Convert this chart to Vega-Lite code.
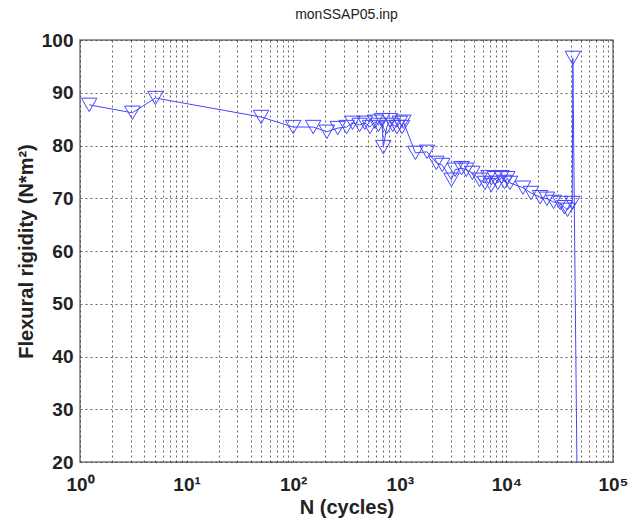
{
  "$schema": "https://vega.github.io/schema/vega-lite/v6.json",
  "width": 533,
  "height": 422,
  "autosize": "none",
  "padding": {"left": 80, "top": 40, "right": 16, "bottom": 58},
  "background": "white",
  "config": {"view": {"stroke": "#7a7a7a", "strokeWidth": 1.5}, "font": "Liberation Sans"},
  "title": {"text": "monSSAP05.inp", "fontSize": 14, "fontWeight": "normal", "font": "Liberation Sans", "offset": 9, "color": "#222"},
  "data": {"values": [
    {"N": 1.22, "EI": 87.7},
    {"N": 3.1, "EI": 86.2},
    {"N": 5.1, "EI": 89.0},
    {"N": 50, "EI": 85.4},
    {"N": 100, "EI": 83.5},
    {"N": 154, "EI": 83.5},
    {"N": 207, "EI": 82.6},
    {"N": 262, "EI": 83.3},
    {"N": 317, "EI": 83.5},
    {"N": 360, "EI": 84.3},
    {"N": 420, "EI": 83.9},
    {"N": 470, "EI": 84.3},
    {"N": 525, "EI": 83.5},
    {"N": 585, "EI": 84.5},
    {"N": 630, "EI": 83.9},
    {"N": 680, "EI": 84.8},
    {"N": 700, "EI": 79.7},
    {"N": 755, "EI": 83.5},
    {"N": 810, "EI": 84.8},
    {"N": 860, "EI": 83.9},
    {"N": 940, "EI": 83.5},
    {"N": 1000, "EI": 84.3},
    {"N": 1050, "EI": 83.5},
    {"N": 1080, "EI": 84.5},
    {"N": 1400, "EI": 78.6},
    {"N": 1800, "EI": 78.8},
    {"N": 2200, "EI": 76.7},
    {"N": 2500, "EI": 76.3},
    {"N": 3050, "EI": 73.5},
    {"N": 3300, "EI": 75.4},
    {"N": 3800, "EI": 75.7},
    {"N": 4200, "EI": 75.4},
    {"N": 4800, "EI": 74.8},
    {"N": 5600, "EI": 73.5},
    {"N": 6300, "EI": 72.9},
    {"N": 6800, "EI": 74.0},
    {"N": 7200, "EI": 72.5},
    {"N": 7800, "EI": 73.8},
    {"N": 8300, "EI": 72.9},
    {"N": 9000, "EI": 74.0},
    {"N": 9600, "EI": 73.1},
    {"N": 10200, "EI": 73.8},
    {"N": 10800, "EI": 72.9},
    {"N": 14300, "EI": 72.0},
    {"N": 17000, "EI": 71.0},
    {"N": 20700, "EI": 70.2},
    {"N": 24000, "EI": 69.9},
    {"N": 27700, "EI": 69.3},
    {"N": 32000, "EI": 69.1},
    {"N": 35000, "EI": 68.3},
    {"N": 37500, "EI": 67.8},
    {"N": 41500, "EI": 69.1},
    {"N": 42000, "EI": 96.6},
    {"N": 48000, "EI": -20}
  ]},
  "encoding": {
    "x": {
      "field": "N", "type": "quantitative",
      "scale": {"type": "log", "domain": [1, 100000], "nice": false},
      "axis": {
        "values": [1,2,3,4,5,6,7,8,9,10,20,30,40,50,60,70,80,90,100,200,300,400,500,600,700,800,900,1000,2000,3000,4000,5000,6000,7000,8000,9000,10000,20000,30000,40000,50000,60000,70000,80000,90000,100000],
        "labelExpr": "datum.value==1?'10⁰':datum.value==10?'10¹':datum.value==100?'10²':datum.value==1000?'10³':datum.value==10000?'10⁴':datum.value==100000?'10⁵':''",
        "grid": true, "gridDash": [2, 3], "gridColor": "#333", "gridOpacity": 0.75,
        "ticks": false, "domain": false,
        "labelFontSize": 19, "labelFontWeight": "bold", "labelColor": "#222",
        "labelPadding": 13, "labelFlush": false, "labelOverlap": false,
        "title": "N (cycles)", "titleFontSize": 20, "titleFontWeight": "bold", "titleColor": "#222", "titlePadding": 3
      }
    },
    "y": {
      "field": "EI", "type": "quantitative",
      "scale": {"domain": [20, 100], "nice": false, "zero": false},
      "axis": {
        "values": [20,30,40,50,60,70,80,90,100],
        "grid": true, "gridDash": [2, 3], "gridColor": "#333", "gridOpacity": 0.75,
        "ticks": false, "domain": false,
        "labelFontSize": 19, "labelFontWeight": "bold", "labelColor": "#222",
        "labelPadding": 7,
        "title": "Flexural rigidity (N*m²)", "titleFontSize": 20, "titleFontWeight": "bold", "titleColor": "#222", "titlePadding": 5
      }
    }
  },
  "layer": [
    {"mark": {"type": "line", "color": "#4646ff", "strokeWidth": 1, "clip": true}},
    {"mark": {"type": "point", "shape": "triangle-down", "filled": false, "color": "#4646ff", "size": 240, "strokeWidth": 1, "opacity": 1, "clip": true}}
  ]
}
